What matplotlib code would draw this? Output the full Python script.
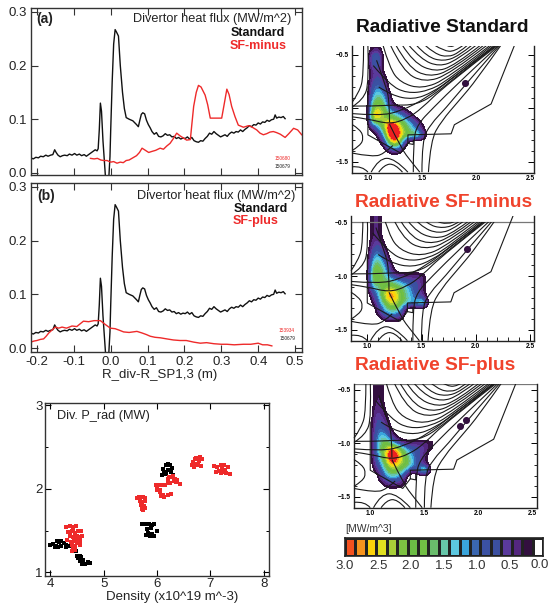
"""Divertor heat flux, radiated power and emissivity panels."""
import matplotlib
matplotlib.use("Agg")
import matplotlib.pyplot as plt
import numpy as np
from matplotlib.colors import BoundaryNorm, ListedColormap
from matplotlib.patches import PathPatch, Rectangle
from matplotlib.path import Path

plt.rcParams["font.family"] = ["Liberation Sans", "DejaVu Sans"]

W, H = 549, 608
RED = "#ee2a2a"
TITLE_RED = "#f0432c"

# heat flux profiles
std_x = [-0.217, -0.21, -0.203, -0.196, -0.19, -0.183, -0.176, -0.17, -0.163, -0.157, -0.152, -0.148, -0.143,
         -0.137, -0.131, -0.125, -0.118, -0.112, -0.105, -0.098, -0.092, -0.085, -0.079, -0.072, -0.066, -0.06,
         -0.054, -0.048, -0.042, -0.037, -0.034, -0.031, -0.028, -0.025, -0.021, -0.017, -0.013, -0.006, -0.002,
         0.0, 0.004, 0.008, 0.012, 0.016, 0.021, 0.026, 0.032, 0.037, 0.042, 0.05, 0.06, 0.07, 0.075, 0.079, 0.083,
         0.087, 0.092, 0.097, 0.102, 0.107, 0.112, 0.118, 0.124, 0.13, 0.136, 0.142, 0.148, 0.154, 0.16, 0.166,
         0.172, 0.178, 0.184, 0.19, 0.196, 0.202, 0.208, 0.214, 0.22, 0.226, 0.232, 0.238, 0.244, 0.25, 0.256,
         0.262, 0.268, 0.274, 0.28, 0.286, 0.292, 0.298, 0.304, 0.31, 0.316, 0.322, 0.328, 0.334, 0.34, 0.346,
         0.352, 0.358, 0.364, 0.37, 0.376, 0.382, 0.388, 0.394, 0.4, 0.406, 0.412, 0.418, 0.424, 0.43, 0.436,
         0.442, 0.446, 0.45, 0.456, 0.462, 0.468, 0.473]
std_y = [0.028, 0.026, 0.029, 0.028, 0.031, 0.03, 0.033, 0.031, 0.033, 0.034, 0.043, 0.038, 0.033, 0.03, 0.032,
         0.033, 0.032, 0.035, 0.033, 0.036, 0.033, 0.035, 0.032, 0.034, 0.031, 0.034, 0.037, 0.04, 0.043, 0.041,
         0.045, 0.08, 0.13, 0.115, 0.06, 0.02, -0.02, -0.02, 0.03, 0.08, 0.17, 0.24, 0.267, 0.262, 0.255, 0.2, 0.15,
         0.12, 0.103, 0.1, 0.097, 0.09, 0.086, 0.098, 0.109, 0.112, 0.11, 0.098, 0.09, 0.084, 0.077, 0.072, 0.075,
         0.068, 0.067, 0.069, 0.073, 0.07, 0.071, 0.067, 0.068, 0.064, 0.066, 0.063, 0.065, 0.064, 0.067, 0.063,
         0.066, 0.06, 0.058, 0.057, 0.06, 0.059, 0.064, 0.068, 0.074, 0.072, 0.077, 0.073, 0.07, 0.067, 0.069,
         0.071, 0.068, 0.073, 0.076, 0.074, 0.077, 0.076, 0.08, 0.077, 0.081, 0.084, 0.088, 0.086, 0.09, 0.089,
         0.093, 0.091, 0.095, 0.094, 0.098, 0.096, 0.099, 0.1, 0.108, 0.102, 0.104, 0.103, 0.105, 0.101]
minus_x = [-0.055, -0.045, -0.036, -0.027, -0.019, -0.01, 0.0, 0.008, 0.017, 0.026, 0.034, 0.042, 0.05, 0.06, 0.07,
           0.078, 0.085, 0.094, 0.103, 0.112, 0.122, 0.134, 0.143, 0.152, 0.161, 0.17, 0.179, 0.188, 0.197, 0.206,
           0.216, 0.22, 0.225, 0.232, 0.238, 0.245, 0.256, 0.263, 0.27, 0.285, 0.301, 0.307, 0.315, 0.321, 0.328,
           0.337, 0.346, 0.36, 0.374, 0.384, 0.396, 0.405, 0.414, 0.423, 0.432, 0.441, 0.45, 0.46, 0.473, 0.483,
           0.496, 0.507, 0.518]
minus_y = [0.027, 0.026, 0.027, 0.024, 0.023, 0.023, 0.02, 0.021, 0.018, 0.02, 0.019, 0.023, 0.024, 0.028, 0.032,
           0.038, 0.046, 0.042, 0.038, 0.04, 0.042, 0.046, 0.044, 0.05, 0.055, 0.064, 0.074, 0.069, 0.065, 0.061,
           0.062, 0.09, 0.124, 0.15, 0.163, 0.16, 0.145, 0.127, 0.102, 0.102, 0.102, 0.125, 0.156, 0.146, 0.124,
           0.105, 0.089, 0.085, 0.088, 0.085, 0.08, 0.074, 0.071, 0.073, 0.076, 0.077, 0.075, 0.072, 0.066, 0.073,
           0.083, 0.08, 0.071]
plus_x = [-0.217, -0.208, -0.2, -0.191, -0.182, -0.175, -0.168, -0.16, -0.15, -0.141, -0.132, -0.12, -0.105, -0.092,
          -0.083, -0.074, -0.06, -0.045, -0.028, -0.015, -0.001, 0.012, 0.024, 0.035, 0.05, 0.071, 0.085, 0.097,
          0.107, 0.12, 0.135, 0.152, 0.17, 0.188, 0.205, 0.225, 0.243, 0.26, 0.28, 0.3, 0.315, 0.335, 0.36, 0.38,
          0.4, 0.412, 0.425, 0.437]
plus_y = [0.011, 0.013, 0.014, 0.016, 0.017, 0.022, 0.028, 0.033, 0.039, 0.037, 0.039, 0.037, 0.041, 0.04, 0.045,
          0.05, 0.049, 0.051, 0.051, 0.044, 0.037, 0.036, 0.033, 0.03, 0.029, 0.031, 0.028, 0.025, 0.022, 0.02,
          0.019, 0.017, 0.015, 0.014, 0.014, 0.011, 0.009, 0.01, 0.008, 0.007, 0.007, 0.006, 0.007, 0.007, 0.009,
          0.006, 0.006, 0.004]

# radiated power against density
black_density = [4.0, 4.05, 4.1, 4.12, 4.16, 4.2, 4.25, 4.3, 4.35, 4.14, 4.2, 4.08, 4.3, 4.45, 4.48, 4.5, 4.55, 4.52,
                 4.58, 4.6, 4.55, 4.6, 4.65, 4.7, 4.75, 4.62, 4.7, 4.6, 5.72, 5.78, 5.85, 5.9, 5.95, 5.82, 5.88, 5.84,
                 5.9, 5.8, 5.86, 5.94, 6.0, 6.12, 6.16, 6.2, 6.25, 6.28, 6.14, 6.2, 6.26, 6.1, 6.16, 6.3]
black_prad = [1.33, 1.34, 1.32, 1.37, 1.36, 1.38, 1.35, 1.33, 1.32, 1.3, 1.31, 1.3, 1.3, 1.29, 1.26, 1.2, 1.2, 1.17,
              1.18, 1.13, 1.14, 1.11, 1.1, 1.11, 1.11, 1.15, 1.12, 1.1, 1.58, 1.58, 1.58, 1.57, 1.58, 1.52, 1.53, 1.47,
              1.46, 1.45, 1.44, 1.44, 1.49, 2.24, 2.28, 2.3, 2.28, 2.25, 2.2, 2.22, 2.2, 2.16, 2.17, 2.16]
red_density = [4.3, 4.36, 4.42, 4.48, 4.34, 4.4, 4.46, 4.52, 4.58, 4.36, 4.42, 4.5, 4.56, 4.6, 4.32, 4.38, 4.45, 4.54,
               4.4, 4.46, 4.5, 4.56, 4.36, 4.42, 4.5, 4.55, 4.42, 4.47, 4.41, 5.62, 5.67, 5.73, 5.77, 5.68, 5.72, 5.78,
               5.7, 5.75, 5.72, 5.78, 5.74, 5.98, 6.03, 6.1, 6.0, 6.06, 6.12, 6.2, 6.26, 6.08, 6.14, 6.0, 6.06, 6.15,
               6.22, 6.25, 6.32, 6.38, 6.44, 6.3, 6.36, 6.2, 6.28, 6.33, 6.2, 6.68, 6.74, 6.8, 6.84, 6.66, 6.72, 6.78,
               6.7, 6.76, 6.82, 6.72, 6.78, 7.06, 7.12, 7.2, 7.26, 7.34, 7.16, 7.22, 7.28, 7.1, 7.2, 7.3, 7.36, 7.24]
red_prad = [1.54, 1.55, 1.54, 1.55, 1.48, 1.5, 1.47, 1.5, 1.49, 1.44, 1.42, 1.44, 1.42, 1.44, 1.39, 1.36, 1.38, 1.36,
            1.33, 1.32, 1.35, 1.33, 1.46, 1.52, 1.4, 1.38, 1.29, 1.27, 1.25, 1.89, 1.9, 1.9, 1.89, 1.85, 1.84, 1.85,
            1.81, 1.79, 1.76, 1.77, 1.74, 2.05, 2.04, 2.05, 1.98, 1.96, 1.93, 1.93, 1.94, 1.91, 1.9, 2.0, 1.98, 2.05,
            2.14, 2.07, 2.09, 2.1, 2.06, 2.15, 2.08, 2.07, 2.14, 2.11, 2.12, 2.32, 2.37, 2.38, 2.36, 2.28, 2.3, 2.33,
            2.26, 2.28, 2.27, 2.36, 2.34, 2.27, 2.26, 2.28, 2.28, 2.26, 2.21, 2.24, 2.22, 2.2, 2.19, 2.19, 2.17, 2.2]

# flux surfaces, R and Z in metres
flux_lines = [
    ([1.73, 1.77, 1.8], [-0.41, -0.43, -0.41]),
    ([1.62, 1.7, 1.8, 1.88], [-0.41, -0.46, -0.47, -0.41]),
    ([1.53, 1.62, 1.74, 1.84, 1.92], [-0.41, -0.49, -0.52, -0.48, -0.41]),
    ([1.45, 1.55, 1.7, 1.84, 1.96], [-0.41, -0.52, -0.56, -0.51, -0.41]),
    ([1.38, 1.49, 1.66, 1.82, 2.0], [-0.41, -0.54, -0.61, -0.55, -0.41]),
    ([1.32, 1.42, 1.62, 1.8, 2.04], [-0.41, -0.57, -0.66, -0.6, -0.41]),
    ([1.26, 1.37, 1.56, 1.78, 2.07], [-0.41, -0.61, -0.71, -0.64, -0.41]),
    ([1.21, 1.32, 1.52, 1.76, 2.1], [-0.41, -0.65, -0.76, -0.68, -0.41]),
    ([1.14, 1.2, 1.3, 1.5, 1.74, 2.13], [-0.41, -0.62, -0.76, -0.82, -0.72, -0.41]),
    ([1.05, 1.2, 1.36, 1.55, 1.74, 2.15], [-0.6, -0.78, -0.86, -0.84, -0.74, -0.41]),
    ([1.1, 1.22, 1.42, 1.6, 1.78, 2.17], [-0.8, -0.88, -0.92, -0.85, -0.72, -0.41]),
    ([0.85, 1.05, 1.22, 1.45, 1.65, 2.18], [-0.98, -0.98, -0.97, -0.97, -0.85, -0.41]),
    ([0.85, 1.1, 1.3, 1.55, 1.8, 2.19], [-1.05, -1.07, -1.03, -0.9, -0.7, -0.41]),
    ([0.85, 1.0, 1.2, 1.36, 1.5, 1.7, 2.2], [-1.08, -1.1, -1.15, -1.1, -1.0, -0.8, -0.41]),
    ([0.96, 0.96, 0.92, 0.85], [-0.41, -0.7, -0.85, -0.95]),
    ([1.0, 1.01, 0.96, 0.85], [-0.41, -0.75, -0.92, -0.99]),
    ([1.08, 1.17, 1.2, 1.2], [-0.55, -0.8, -0.95, -1.13]),
    ([1.2, 1.31, 1.4, 1.48], [-1.15, -1.38, -1.5, -1.6]),
    ([1.42, 1.42, 1.46, 1.6, 1.85, 2.21], [-1.6, -1.3, -1.15, -1.0, -0.75, -0.41]),
    ([1.5, 1.5, 1.58, 1.72, 1.9, 2.22], [-1.6, -1.3, -1.15, -1.0, -0.78, -0.41]),
    ([1.56, 1.58, 1.68, 1.85, 2.0, 2.23], [-1.6, -1.3, -1.12, -0.92, -0.74, -0.41]),
    ([0.85, 0.93, 0.96, 0.93, 0.85], [-1.15, -1.2, -1.28, -1.35, -1.4]),
    ([1.1, 1.15, 1.25, 1.32], [-1.6, -1.53, -1.52, -1.6]),
    ([1.03, 1.1, 1.25, 1.37], [-1.6, -1.47, -1.47, -1.6]),
    ([0.85, 1.05, 1.16, 1.23], [-1.42, -1.46, -1.42, -1.35]),
    ([0.85, 0.95, 1.0], [-1.55, -1.54, -1.6]),
]
wall_r = [2.36, 2.14, 1.8, 1.77, 1.37, 1.37, 1.42, 1.42]
wall_z = [-0.4, -0.96, -1.155, -1.24, -1.25, -1.33, -1.34, -1.3]
inner_wall_r = [1.0, 1.0, 1.3, 1.37]
inner_wall_z = [-0.8, -1.25, -1.42, -1.33]

# emissivity in MW/m^3 on a coarse R, Z grid
grid_r = [1.0, 1.05, 1.1, 1.15, 1.2, 1.25, 1.3, 1.35, 1.4, 1.45, 1.5, 1.55]
grid_z = [-0.45, -0.5, -0.55, -0.6, -0.65, -0.7, -0.75, -0.8, -0.85, -0.9, -0.95, -1.0, -1.05, -1.1, -1.15, -1.2,
          -1.25, -1.3, -1.35, -1.4, -1.45]
standard_emis = [
    [0, .3, .3, 0, 0, 0, 0, 0, 0, 0, 0, 0],
    [0, .9, .9, 0, 0, 0, 0, 0, 0, 0, 0, 0],
    [0, 1.0, 1.0, 0, 0, 0, 0, 0, 0, 0, 0, 0],
    [0, .8, .8, 0, 0, 0, 0, 0, 0, 0, 0, 0],
    [0, .5, .6, .1, 0, 0, 0, 0, 0, 0, 0, 0],
    [0, .5, .7, .3, 0, 0, 0, 0, 0, 0, 0, 0],
    [0, .7, .9, .5, 0, 0, 0, 0, 0, 0, 0, 0],
    [0, .9, 1.1, .7, .05, 0, 0, 0, 0, 0, 0, 0],
    [0, 1.1, 1.4, 1.0, .15, 0, 0, 0, 0, 0, 0, 0],
    [0, 1.4, 1.7, 1.4, .3, 0, 0, 0, 0, 0, 0, 0],
    [0, 1.8, 2.1, 1.7, .5, .1, 0, 0, 0, 0, 0, 0],
    [0, 2.2, 2.4, 2.0, 1.0, .5, .3, .1, 0, 0, 0, 0],
    [0, 2.7, 2.7, 2.2, 1.7, 1.4, 1.0, .5, .2, 0, 0, 0],
    [0, 2.5, 2.4, 2.2, 2.2, 2.0, 1.7, 1.2, .7, .2, 0, 0],
    [0, 1.2, 1.6, 2.3, 3.2, 3.1, 2.4, 1.8, 1.3, .8, .2, 0],
    [0, .3, .9, 1.9, 3.5, 3.6, 2.7, 2.0, 1.5, 1.1, .4, 0],
    [0, 0, .3, 1.3, 3.2, 3.6, 2.8, 2.2, 1.9, 2.0, 1.2, 0],
    [0, 0, .1, .7, 2.4, 3.2, 2.3, .6, 0, 0, 0, 0],
    [0, 0, 0, .2, 1.3, 2.0, 1.3, .1, 0, 0, 0, 0],
    [0, 0, 0, 0, .3, .6, .3, 0, 0, 0, 0, 0],
    [0, 0, 0, 0, 0, 0, 0, 0, 0, 0, 0, 0],
]
minus_emis = [
    [0, .35, .35, 0, 0, 0, 0, 0, 0, 0, 0, 0],
    [0, .35, .35, 0, 0, 0, 0, 0, 0, 0, 0, 0],
    [0, .35, .35, 0, 0, 0, 0, 0, 0, 0, 0, 0],
    [0, .35, .35, 0, 0, 0, 0, 0, 0, 0, 0, 0],
    [0, .35, .4, .05, 0, 0, 0, 0, 0, 0, 0, 0],
    [0, .5, .6, .15, 0, 0, 0, 0, 0, 0, 0, 0],
    [0, .7, .9, .3, 0, 0, 0, 0, 0, 0, 0, 0],
    [0, 1.0, 1.2, .6, 0, 0, 0, 0, 0, 0, 0, 0],
    [0, 1.3, 1.5, .9, .15, 0, 0, 0, 0, 0, 0, 0],
    [0, 1.7, 1.8, 1.2, .4, 0, 0, 0, 0, 0, 0, 0],
    [0, 2.0, 2.0, 1.5, .6, .1, 0, 0, 0, 0, 0, 0],
    [0, 2.1, 2.1, 1.6, 1.0, .5, .4, .35, .35, .35, .35, 0],
    [0, 2.0, 1.9, 1.7, 1.6, 1.3, 1.0, .9, .7, .6, .4, 0],
    [0, 1.4, 1.6, 2.0, 2.2, 2.0, 1.7, 1.3, 1.0, .7, .35, 0],
    [0, .8, 1.4, 2.3, 2.8, 2.6, 2.0, 1.5, 1.1, .7, .35, 0],
    [0, .4, 1.2, 2.3, 2.9, 2.7, 2.1, 1.6, 1.2, .9, .6, 0],
    [0, .2, .9, 1.8, 2.5, 2.5, 2.0, 1.6, 1.2, 1.4, 2.2, 0],
    [0, 0, .5, 1.3, 1.9, 1.9, 1.5, 0, 0, 0, 0, 0],
    [0, 0, .35, .9, 1.2, 1.2, .8, 0, 0, 0, 0, 0],
    [0, 0, 0, .3, .4, .4, .25, 0, 0, 0, 0, 0],
    [0, 0, 0, 0, 0, 0, 0, 0, 0, 0, 0, 0],
]
plus_emis = [
    [0, .35, .3, 0, 0, 0, 0, 0, 0, 0, 0, 0],
    [0, .35, .3, 0, 0, 0, 0, 0, 0, 0, 0, 0],
    [0, .35, .3, 0, 0, 0, 0, 0, 0, 0, 0, 0],
    [0, .35, .3, 0, 0, 0, 0, 0, 0, 0, 0, 0],
    [0, .4, .35, .05, 0, 0, 0, 0, 0, 0, 0, 0],
    [0, .5, .4, .1, 0, 0, 0, 0, 0, 0, 0, 0],
    [0, .6, .5, .2, 0, 0, 0, 0, 0, 0, 0, 0],
    [0, .7, .7, .3, 0, 0, 0, 0, 0, 0, 0, 0],
    [0, .8, .9, .5, .05, 0, 0, 0, 0, 0, 0, 0],
    [0, .9, 1.2, .9, .2, 0, 0, 0, 0, 0, 0, 0],
    [0, 1.0, 1.5, 1.3, .6, .15, 0, 0, 0, 0, 0, 0],
    [0, 1.0, 1.7, 2.0, 1.3, .8, .4, .35, .35, .35, .4, .25],
    [0, 1.0, 1.8, 2.5, 2.9, 2.2, 1.5, 1.0, .8, .7, .5, .2],
    [0, .9, 1.7, 2.7, 3.5, 2.9, 2.1, 1.4, 1.0, .6, .4, 0],
    [0, .8, 1.6, 2.6, 3.5, 2.8, 2.3, 1.7, 1.1, .6, .35, 0],
    [0, .6, 1.2, 2.2, 2.8, 2.5, 2.2, 1.7, 1.2, .7, .35, 0],
    [0, .35, .9, 1.7, 2.2, 2.0, 1.6, 1.0, .4, 1.2, 2.4, 0],
    [0, 0, .6, 1.3, 1.6, 1.4, .9, 0, 0, 0, 0, 0],
    [0, 0, .35, .7, .8, .7, .4, 0, 0, 0, 0, 0],
    [0, 0, 0, .3, .3, .3, .2, 0, 0, 0, 0, 0],
    [0, 0, 0, 0, 0, 0, 0, 0, 0, 0, 0, 0],
]

# colour scale, from 3.0 down to 0.0
scale_colors = ["#f4511f", "#f7931e", "#fcd20a", "#e0e01f", "#a8cf38", "#7dc242", "#6cbd45", "#72bf44", "#6abd6c",
                "#66c6a9", "#5cc8e0", "#3aa5dc", "#3a66b0", "#3b51a3", "#3b4fa0", "#5a3a9c", "#54277f", "#33103f",
                "#ffffff"]
heat_colors = ["#ee2020"] + scale_colors[1:]
scale_ticks = [3.0, 2.5, 2.0, 1.5, 1.0, 0.5]
spot_r = {"standard": [1.9], "minus": [1.92], "plus": [1.88, 1.83]}
spot_z = {"standard": [-0.76], "minus": [-0.75], "plus": [-0.78, -0.84]}

fig = plt.figure(figsize=(W / 100, H / 100), dpi=100)


def axes_px(left, top, right, bottom):
    return fig.add_axes([left / W, 1 - bottom / H, (right - left) / W, (bottom - top) / H])


def text_px(x, y, s, **kw):
    kw.setdefault("va", "center")
    fig.text(x / W, 1 - y / H, s, **kw)


def style_flux_axes(ax, ylim):
    ax.set_xlim(-0.217, 0.518)
    ax.set_ylim(*ylim)
    ax.set_xticks(np.arange(-0.2, 0.51, 0.1))
    ax.set_yticks([0.0, 0.1, 0.2, 0.3])
    ax.tick_params(direction="in", length=5, width=0.8, top=True, right=True, labelsize=9.5, color="#333333",
                   labelcolor="#222222", pad=3)
    for spine in ax.spines.values():
        spine.set_linewidth(1.0)
        spine.set_color("#333333")


def draw_smooth(ax, rs, zs, clip=None):
    # quadratic segments through the midpoints, keeps the surfaces round
    pts = list(zip(rs, zs))
    verts = [pts[0]]
    codes = [Path.MOVETO]
    for i in range(1, len(pts) - 1):
        end = pts[-1] if i == len(pts) - 2 else ((pts[i][0] + pts[i + 1][0]) / 2, (pts[i][1] + pts[i + 1][1]) / 2)
        verts += [pts[i], end]
        codes += [Path.CURVE3, Path.CURVE3]
    patch = PathPatch(Path(verts, codes), fill=False, lw=0.8, ec="#1a1a1a", zorder=3)
    ax.add_patch(patch)
    if clip is not None:
        patch.set_clip_path(clip)


def draw_emissivity(box, xlim, ylim, emis, spot, top_line=None, x_ticks=False):
    ax = axes_px(*box)
    levels = np.linspace(0, 3, 20)
    cmap = ListedColormap(heat_colors[::-1])
    cmap.set_under("white")
    cmap.set_over(heat_colors[0])
    norm = BoundaryNorm(levels, cmap.N)
    ax.imshow(emis, extent=(grid_r[0] - 0.025, grid_r[-1] + 0.025, grid_z[-1] - 0.025, grid_z[0] + 0.025),
              origin="upper", aspect="auto", cmap=cmap, norm=norm,
              interpolation="bicubic", interpolation_stage="data", zorder=1)
    ax.scatter(spot_r[spot], spot_z[spot], s=26, color="#33103f", zorder=4, linewidths=0)
    clip = None
    if top_line is not None:
        clip = Rectangle((0.8, -1.7), 1.8, top_line + 1.7, transform=ax.transData)
        ax.plot(xlim, [top_line, top_line], color="#777777", lw=0.9, zorder=2)
    for rs, zs in flux_lines:
        draw_smooth(ax, rs, zs, clip)
    ax.plot(wall_r, wall_z, color="#1a1a1a", lw=0.8, zorder=3)
    ax.plot(inner_wall_r, inner_wall_z, color="#1a1a1a", lw=0.8, zorder=3)
    ax.set_xlim(*xlim)
    ax.set_ylim(*ylim)
    ax.set_xticks([1.0, 1.5, 2.0, 2.5])
    ax.set_xticklabels(["1.0", "1.5", "2.0", "2.5"], fontweight="bold", fontsize=4.8)
    ax.set_yticks([-0.5, -1.0, -1.5])
    ax.set_yticklabels(["\u22120.5", "\u22121.0", "\u22121.5"], fontweight="bold", fontsize=4.8)
    ax.set_yticks(np.arange(-1.5, -0.45, 0.1), minor=True)
    ax.tick_params(axis="y", which="major", direction="in", length=4, width=0.7, right=True, pad=2)
    ax.tick_params(axis="y", which="minor", direction="in", length=2, width=0.6, right=True)
    ax.tick_params(axis="x", which="major", direction="in", length=5 if x_ticks else 0, width=0.7, pad=2)
    if x_ticks:
        ax.set_xticks(np.arange(1.0, 2.55, 0.1), minor=True)
        ax.tick_params(axis="x", which="minor", direction="in", length=3, width=0.6)
    ax.spines["top"].set_visible(False)
    for name in ["left", "right", "bottom"]:
        ax.spines[name].set_linewidth(1.0)
        ax.spines[name].set_color("#222222")
    return ax


# panel (a)
ax_a = axes_px(30.7, 8.3, 301.7, 175)
ax_a.plot(std_x, std_y, color="#111111", lw=1.0)
ax_a.plot(minus_x, minus_y, color=RED, lw=1.0)
style_flux_axes(ax_a, (-0.004, 0.3067))
ax_a.tick_params(labelbottom=False)
text_px(36, 19, "(a)", fontsize=10, fontweight="bold", color="#222222")
text_px(291, 19, "Divertor heat flux (MW/m^2)", fontsize=9.2, ha="right", color="#222222")
text_px(285, 33, "Standard", fontsize=9, fontweight="bold", ha="right", color="#111111")
text_px(287, 46, "SF-minus", fontsize=9, fontweight="bold", ha="right", color=RED)
text_px(290, 159, "150680", fontsize=3.4, ha="right", color=RED)
text_px(290, 166, "150679", fontsize=3.4, ha="right", color="#222222")

# panel (b)
ax_b = axes_px(30.7, 183, 301.7, 352)
ax_b.plot(std_x, std_y, color="#111111", lw=1.0)
ax_b.plot(plus_x, plus_y, color=RED, lw=1.0)
style_flux_axes(ax_b, (-0.0074, 0.3073))
ax_b.set_xticklabels(["-0.2", "-0.1", "0.0", "0.1", "0.2", "0.3", "0.4", "0.5"])
text_px(37, 196, "(b)", fontsize=10, fontweight="bold", color="#222222")
text_px(295, 196, "Divertor heat flux (MW/m^2)", fontsize=9.2, ha="right", color="#222222")
text_px(288, 209, "Standard", fontsize=9, fontweight="bold", ha="right", color="#111111")
text_px(233, 221, "SF-plus", fontsize=9, fontweight="bold", color=RED)
text_px(295, 331, "153934", fontsize=3.4, ha="right", color=RED)
text_px(295, 339, "150679", fontsize=3.4, ha="right", color="#222222")
text_px(160, 375, "R_div-R_SP1,3 (m)", fontsize=9.5, ha="center", color="#222222")

# panel with radiated power
ax_c = axes_px(45, 403, 269, 576)
ax_c.scatter(black_density, black_prad, s=11, marker="s", color="black", linewidths=0)
ax_c.scatter(red_density, red_prad, s=11, marker="s", color=RED, linewidths=0)
ax_c.set_xlim(3.9, 8.1)
ax_c.set_ylim(0.957, 3.024)
ax_c.set_xticks([4, 5, 6, 7, 8])
ax_c.set_yticks([1, 2, 3])
ax_c.set_yticks([1.5, 2.5], minor=True)
ax_c.tick_params(direction="in", length=4, width=0.8, top=True, right=True, labelsize=9.5, labelcolor="#222222", pad=1.5)
ax_c.tick_params(which="minor", direction="in", length=2, width=0.7, right=True)
for spine in ax_c.spines.values():
    spine.set_linewidth(1.0)
    spine.set_color("#333333")
text_px(57, 416, "Div. P_rad (MW)", fontsize=9.2, color="#222222")
text_px(172, 597, "Density (x10^19 m^-3)", fontsize=9.5, ha="center", color="#222222")

# emissivity panels
draw_emissivity((351.7, 45.7, 534, 172.7), (0.85, 2.537), (-1.605, -0.413), standard_emis, "standard")
draw_emissivity((351, 215.7, 534, 340.7), (0.85, 2.537), (-1.6, -0.44), minus_emis, "minus", top_line=-0.5,
                x_ticks=True)
draw_emissivity((354, 384, 537, 507.7), (0.85, 2.54), (-1.6, -0.444), plus_emis, "plus", top_line=-0.445)

text_px(442, 27, "Radiative Standard", fontsize=13.8, fontweight="bold", ha="center", color="#111111")
text_px(444, 203, "Radiative SF-minus", fontsize=13.8, fontweight="bold", ha="center", color=TITLE_RED)
text_px(435, 366, "Radiative SF-plus", fontsize=13.8, fontweight="bold", ha="center", color=TITLE_RED)

# colour scale
ax_s = axes_px(345, 538, 543, 556)
edges = np.linspace(3, 0, 20)
ax_s.pcolormesh(edges, [0, 1], [[(edges[i] + edges[i + 1]) / 2 for i in range(19)]],
                cmap=ListedColormap(scale_colors[::-1]), norm=BoundaryNorm(edges[::-1], 19),
                edgecolors="#222222", linewidth=0.8)
ax_s.set_xlim(3, 0)
ax_s.set_ylim(0, 1)
ax_s.set_yticks([])
ax_s.set_xticks(scale_ticks)
ax_s.set_xticklabels([f"{v:.1f}" for v in scale_ticks])
ax_s.tick_params(length=0, labelsize=9.5, labelcolor="#333333", pad=3)
for spine in ax_s.spines.values():
    spine.set_linewidth(1.2)
    spine.set_color("#222222")
text_px(345, 529, "[MW/m^3]", fontsize=7.5, color="#333333")
text_px(548.5, 565.5, "0.0", fontsize=9.5, ha="right", color="#333333")

fig.savefig("out.png", dpi=100)
plt.close(fig)
